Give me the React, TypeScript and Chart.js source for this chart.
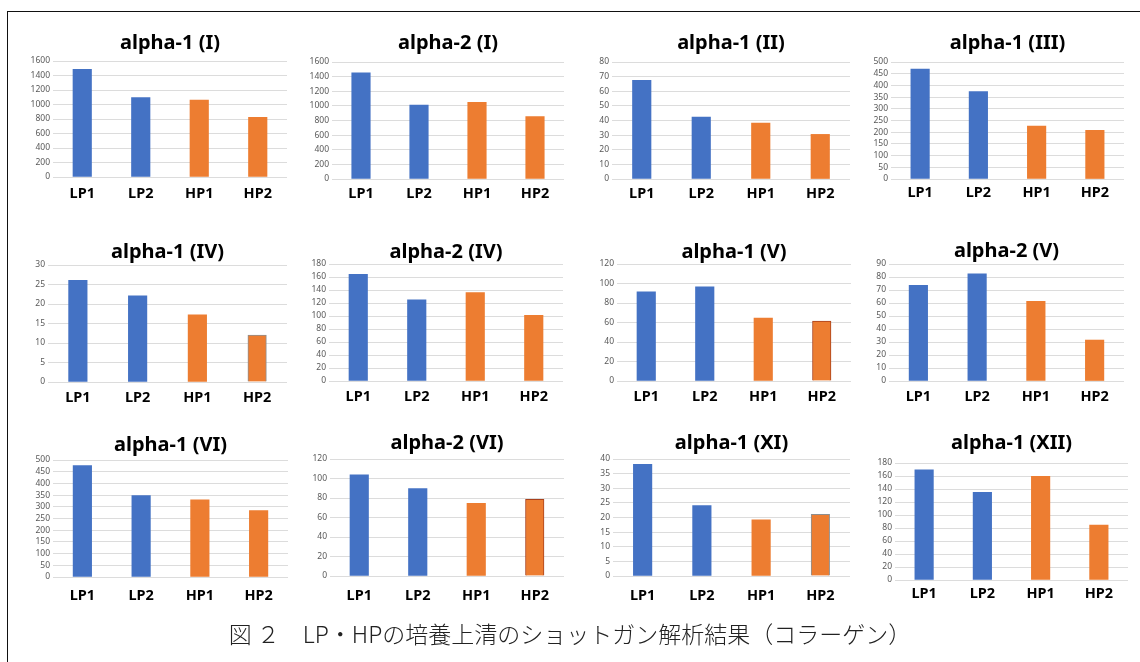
import React, { useEffect, useRef } from "react";
import { Chart, registerables } from "chart.js";

Chart.register(...registerables);

// ---------- data ----------
const categories = ["LP1", "LP2", "HP1", "HP2"];

const titles = [
  "alpha-1 (I)", "alpha-2 (I)", "alpha-1 (II)", "alpha-1 (III)",
  "alpha-1 (IV)", "alpha-2 (IV)", "alpha-1 (V)", "alpha-2 (V)",
  "alpha-1 (VI)", "alpha-2 (VI)", "alpha-1 (XI)", "alpha-1 (XII)",
];

const alpha1_I = [1485, 1095, 1062, 822];
const alpha2_I = [1452, 1012, 1050, 852];
const alpha1_II = [67.5, 42.3, 38.3, 30.5];
const alpha1_III = [470, 374, 226, 208];
const alpha1_IV = [26.1, 22.1, 17.2, 12];
const alpha2_IV = [164, 125, 136, 101];
const alpha1_V = [91.5, 96.5, 64.5, 61.5];
const alpha2_V = [73.5, 82.5, 61.3, 31.5];
const alpha1_VI = [476, 348, 330, 284];
const alpha2_VI = [103.8, 89.7, 74.6, 78.6];
const alpha1_XI = [38.2, 24.1, 19.2, 21.1];
const alpha1_XII = [169.5, 134.8, 159.5, 84.5];

const seriesValues = [
  alpha1_I, alpha2_I, alpha1_II, alpha1_III,
  alpha1_IV, alpha2_IV, alpha1_V, alpha2_V,
  alpha1_VI, alpha2_VI, alpha1_XI, alpha1_XII,
];

const yMax = [1600, 1600, 80, 500, 30, 180, 120, 90, 500, 120, 40, 180];
const yStep = [200, 200, 10, 50, 5, 20, 20, 10, 50, 20, 5, 20];

const caption = "図 ２　LP・HPの培養上清のショットガン解析結果（コラーゲン）";

// ---------- layout & style ----------
// [gridLeft, gridRight, gridTop, gridBottom, titleCenterY, labelCenterY]
const panelBoxes: number[][] = [
  [53, 287, 61, 177, 43, 193],
  [332, 564, 62, 179, 43, 193],
  [612, 850, 62, 179, 43, 193],
  [891, 1124, 62, 179, 43, 192],
  [48, 287, 265, 382, 252, 397],
  [329, 563, 264, 381, 252, 396],
  [617, 851, 264, 381, 252, 396],
  [889, 1124, 264, 381, 251, 396],
  [53, 288, 460, 577, 445, 595],
  [330, 564, 459, 576, 443, 595],
  [613, 850, 459, 576, 443, 595],
  [895, 1128, 463, 580, 443, 593],
];

const BLUE = "#4472C4";
const ORANGE = "#ED7D31";
const barColors = [BLUE, BLUE, ORANGE, ORANGE];
// outline colour of the HP2 bar (artifact visible in some panels)
const hp2Outline: (string | null)[] = [
  null, null, null, null,
  "#8f8f8f", null, "#a9411c", null,
  null, "#a9411c", "#8f8f8f", null,
];

const FONT = "'Noto Sans', 'Open Sans', sans-serif";
const TITLE_SIZE = 20;
const TITLE_LH = TITLE_SIZE * 1.2;
const CAT_SIZE = 14.5;
const CAT_LH = CAT_SIZE * 1.2;
const Y_AXIS_W = 34;
const X_AXIS_H = 42;

function Panel({ index }: { index: number }) {
  const ref = useRef<HTMLCanvasElement | null>(null);
  const [gl, gr, gt, gb, ty, ly] = panelBoxes[index];
  const left = gl - Y_AXIS_W;
  const top = ty - TITLE_LH / 2;
  const width = gr - left;
  const height = gb - top + X_AXIS_H;

  useEffect(() => {
    if (!ref.current) return;
    const outline = hp2Outline[index];
    const chart = new Chart(ref.current, {
      type: "bar",
      data: {
        labels: categories,
        datasets: [
          {
            data: seriesValues[index],
            backgroundColor: barColors,
            borderColor: barColors.map((c, i) => (i === 3 && outline ? outline : c)),
            borderWidth: barColors.map((_, i) => (i === 3 && outline ? 1 : 0)),
            barThickness: 18.5,
          },
        ],
      },
      options: {
        animation: false,
        responsive: false,
        devicePixelRatio: 1,
        layout: { padding: 0 },
        plugins: {
          legend: { display: false },
          tooltip: { enabled: false },
          title: {
            display: true,
            text: titles[index],
            fullSize: false,
            color: "#000",
            font: { family: FONT, size: TITLE_SIZE, weight: "bold", lineHeight: 1.2 },
            padding: { top: 0, bottom: gt - top - TITLE_LH },
          },
        },
        scales: {
          x: {
            grid: { display: false, drawTicks: false },
            border: { display: false },
            ticks: {
              color: "#000",
              font: { family: FONT, size: CAT_SIZE, weight: "bold", lineHeight: 1.2 },
              padding: ly - gb - CAT_LH / 2 + 1,
              maxRotation: 0,
              autoSkip: false,
            },
            afterFit: (s: any) => {
              s.height = X_AXIS_H;
            },
          },
          y: {
            min: 0,
            max: yMax[index],
            grid: { color: "#dcdcdc", lineWidth: 1, drawTicks: false },
            border: { display: false },
            ticks: {
              stepSize: yStep[index],
              autoSkip: false,
              color: "#595959",
              padding: 3,
              font: { family: FONT, size: 8.5 },
              callback: (v: any) => String(v),
            },
            afterFit: (s: any) => {
              s.width = Y_AXIS_W;
            },
          },
        },
      },
    });
    return () => chart.destroy();
  }, [index]);

  return (
    <canvas
      ref={ref}
      width={width}
      height={height}
      style={{ position: "absolute", left, top, width, height }}
    />
  );
}

export default function App() {
  return (
    <div
      style={{
        position: "absolute",
        left: 0,
        top: 0,
        width: 1140,
        height: 662,
        background: "#fff",
        overflow: "hidden",
      }}
    >
      <div
        style={{
          position: "absolute",
          left: 7,
          top: 11,
          width: 1140,
          height: 700,
          borderLeft: "1.5px solid #111",
          borderTop: "1.5px solid #111",
        }}
      />
      {titles.map((_, i) => (
        <Panel key={i} index={i} />
      ))}
      <div
        style={{
          position: "absolute",
          left: 0,
          width: 1140,
          top: 633 - 16,
          height: 32,
          lineHeight: "32px",
          textAlign: "center",
          fontFamily: "'Noto Sans CJK JP', sans-serif",
          fontWeight: 300,
          fontSize: 23,
          color: "#222",
          whiteSpace: "pre",
        }}
      >
        {caption}
      </div>
    </div>
  );
}
